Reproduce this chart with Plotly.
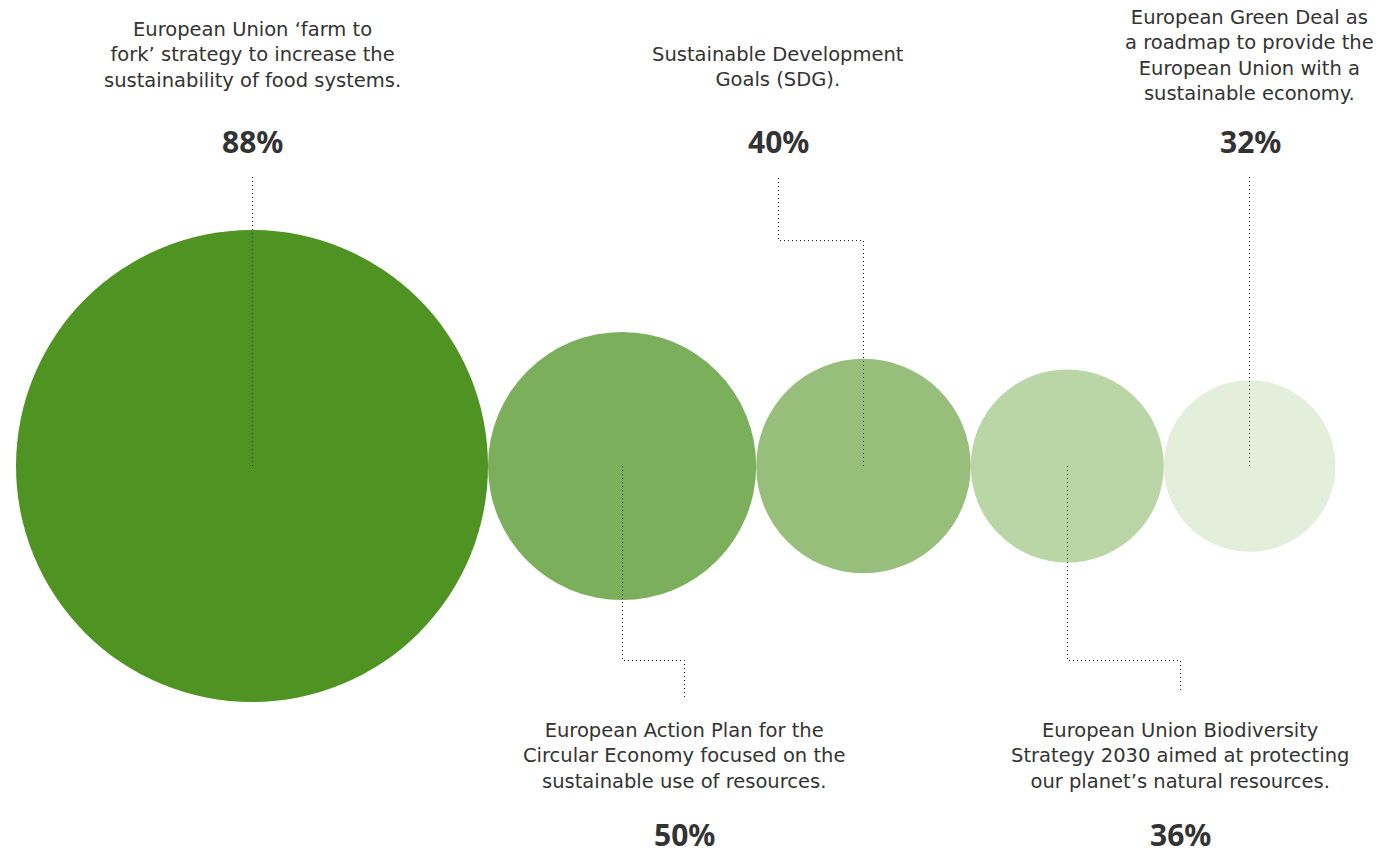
import math
import plotly.graph_objects as go

# ---- data ----
labels = [
    ["European Union ‘farm to", "fork’ strategy to increase the", "sustainability of food systems."],
    ["European Action Plan for the", "Circular Economy focused on the", "sustainable use of resources."],
    ["Sustainable Development", "Goals (SDG)."],
    ["European Union Biodiversity", "Strategy 2030 aimed at protecting", "our planet’s natural resources."],
    ["European Green Deal as", "a roadmap to provide the", "European Union with a", "sustainable economy."],
]
values = [88, 50, 40, 36, 32]
pct_labels = ["88%", "50%", "40%", "36%", "32%"]

# ---- style ----
colors = ["#4f9322", "#7caf5c", "#97bf7b", "#bad6a7", "#e3eedb"]
W, H = 1394, 856
px_per_pct = 236 / 88
cy = 466
left = 16
LBL_FONT = "DejaVu Sans"
PCT_FONT = "Noto Sans"
TXT = "#333333"
LBL_SIZE = 19.5
PCT_SIZE = 30


def snap(v):
    """align a 1px line to the pixel grid"""
    return math.floor(v) + 0.5


fig = go.Figure()

# circle centres: tangent, radius proportional to value
radii = [v * px_per_pct for v in values]
centers = []
x = left
for i, r in enumerate(radii):
    cx = x + r
    centers.append(cx)
    x = cx + r
    fig.add_shape(type="circle", xref="x", yref="y",
                  x0=cx - r, x1=cx + r, y0=cy - r, y1=cy + r,
                  fillcolor=colors[i], line=dict(width=0), layer="below")

# label placement
side = ["top", "bottom", "top", "bottom", "top"]
label_x = [252, 684, 778, 1180, 1249]
label_yc = [54.5, 755.5, 67, 755.5, 55.5]   # centre of text block
pct_x = [252, 684, 778, 1180, 1250]

line_style = dict(color="#222222", width=1, dash="1px,3px")
for i in range(5):
    cx = snap(centers[i])
    lx = snap(pct_x[i])
    if side[i] == "top":
        if abs(lx - cx) < 3:
            xs, ys = [cx, cx], [cy, 176]
        else:
            xs, ys = [cx, cx, lx, lx], [cy, 240.5, 240.5, 176]
    else:
        end = 699 if i == 1 else 690
        xs, ys = [cx, cx, lx, lx], [cy, 660.5, 660.5, end]
    fig.add_trace(go.Scatter(x=xs, y=ys, mode="lines", line=line_style,
                             hoverinfo="skip", showlegend=False))

    fig.add_annotation(x=label_x[i], y=label_yc[i], xref="x", yref="y",
                       text="<br>".join(labels[i]), showarrow=False,
                       xanchor="center", yanchor="middle", align="center",
                       borderpad=0,
                       font=dict(family=LBL_FONT, size=LBL_SIZE, color=TXT))

    if side[i] == "top":
        fig.add_annotation(x=pct_x[i], y=141, xref="x", yref="y",
                           text="<b>" + pct_labels[i] + "</b>", showarrow=False,
                           xanchor="center", yanchor="middle", borderpad=0,
                           font=dict(family=PCT_FONT, size=PCT_SIZE, color=TXT))
    else:
        fig.add_annotation(x=pct_x[i], y=855.9, xref="x", yref="y",
                           text="<b>" + pct_labels[i] + "</b>", showarrow=False,
                           xanchor="center", yanchor="bottom", borderpad=0,
                           font=dict(family=PCT_FONT, size=PCT_SIZE, color=TXT))

fig.update_xaxes(range=[0, W], visible=False, fixedrange=True)
fig.update_yaxes(range=[H, 0], visible=False, fixedrange=True)
fig.update_layout(width=W, height=H, margin=dict(l=0, r=0, t=0, b=0),
                  plot_bgcolor="white", paper_bgcolor="white", showlegend=False)

fig.write_html("out.html", config={"displayModeBar": False})
